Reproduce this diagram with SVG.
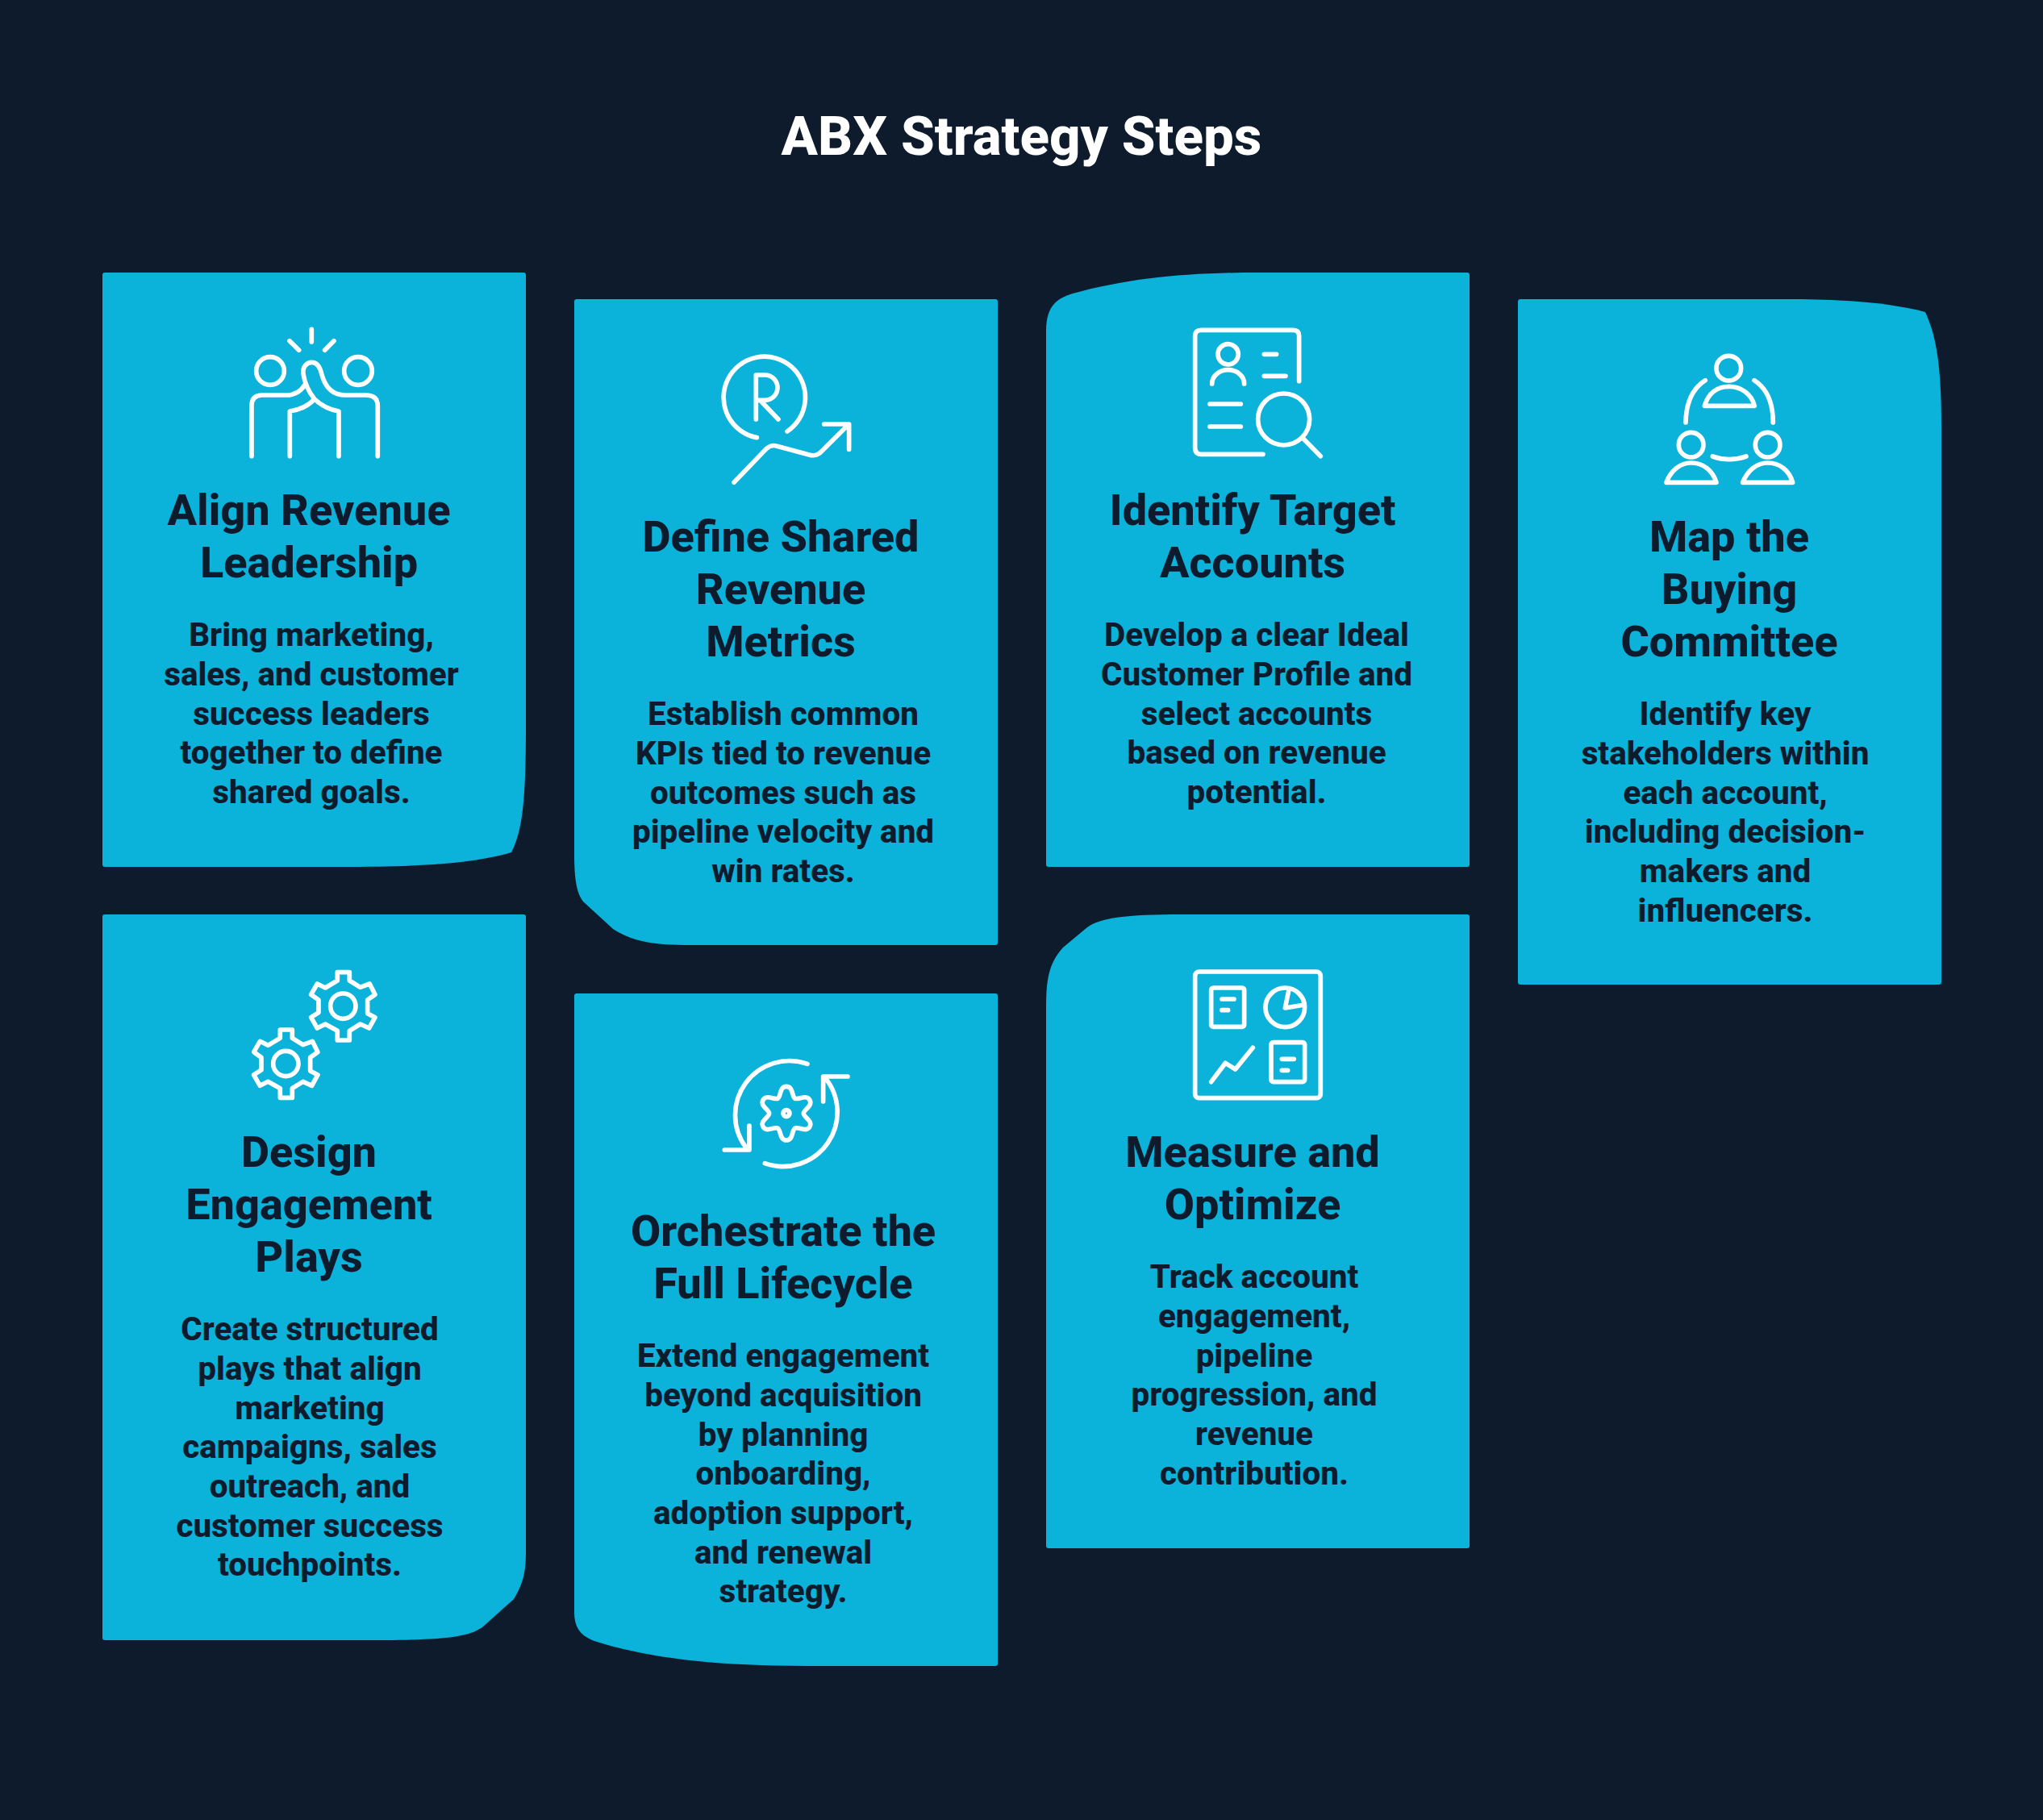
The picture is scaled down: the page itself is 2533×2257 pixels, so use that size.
<svg xmlns="http://www.w3.org/2000/svg" xmlns:xlink="http://www.w3.org/1999/xlink" width="2533" height="2257" viewBox="0 0 2533 2257">
<style>
.card{fill:#0bb2d9}
.ic{fill:none;stroke:#fff;stroke-width:17;stroke-linecap:round;stroke-linejoin:round}
text{font-family:Roboto,"Liberation Sans",sans-serif;text-anchor:middle;fill:#0e1b2d}
.t{font-size:67.300px;font-weight:800;fill:#fff}
.h{font-size:54px;font-weight:800}
.d{font-size:40.400px;font-weight:800}
</style>
<defs>
<path id="gear" d="M-21 -95V-126H24V-95L64 -70L99 -83L119 -43L91 -23V27L119 42L97 82L64 67L24 92V127H-21V92L-66 67L-96 82L-119 42L-91 24V-23L-119 -43L-96 -83L-66 -68Z"/>
</defs>
<rect width="2533" height="2257" fill="#0e1b2d"/>
<text class="t" x="1266.500" y="192">ABX Strategy Steps</text>
<g id="connectors"/>
<g id="card1">
<path class="card" d="M130 338H649Q652 338 652 341V900C652 990 648 1030 634 1057C590 1070 530 1075 420 1075H130Q127 1075 127 1072V341Q127 338 130 338Z"/>
<g class="ic" transform="translate(280 400) scale(.3333)"><circle cx="165" cy="180" r="52"/><circle cx="492" cy="180" r="52"/><path d="M319 25V72M237 68L272 103M402 68L368 103M96 497V310Q96 270 135 270H225Q270 270 295 230M238 497V330Q295 322 330 285Q295 240 288 190C285 165 300 148 320 148C340 148 350 165 356 190C370 245 400 270 445 270H520Q565 270 565 310V497M420 497V330Q370 322 330 285"/></g>
<text class="h" x="383" y="651">Align Revenue</text><text class="h" x="383" y="716">Leadership</text>
<text class="d" x="386" y="801">Bring marketing,</text><text class="d" x="386" y="850">sales, and customer</text><text class="d" x="386" y="899">success leaders</text><text class="d" x="386" y="947">together to define</text><text class="d" x="386" y="996">shared goals.</text>
</g>
<g id="card2">
<path class="card" d="M715 371H1234Q1237 371 1237 374V1169Q1237 1172 1234 1172H857C810 1172 785 1168 760 1152L723 1118C715 1108 712 1090 712 1060V374Q712 371 715 371Z"/>
<g class="ic" transform="translate(850 420) scale(.3333)"><path d="M265 368A152 152 0 1 1 378 345M262 300V135H295A47 47 0 0 1 295 229H262M280 232L345 300M180 535L300 410Q320 392 340 400L460 432Q485 440 505 420L605 320M515 318H608V412"/></g>
<text class="h" x="968" y="684">Define Shared</text><text class="h" x="968" y="749">Revenue</text><text class="h" x="968" y="814">Metrics</text>
<text class="d" x="971" y="899">Establish common</text><text class="d" x="971" y="948">KPIs tied to revenue</text><text class="d" x="971" y="997">outcomes such as</text><text class="d" x="971" y="1045">pipeline velocity and</text><text class="d" x="971" y="1094">win rates.</text>
</g>
<g id="card3">
<path class="card" d="M1297 410C1297 380 1310 370 1330 364C1400 345 1470 338 1560 338H1819Q1822 338 1822 341V1072Q1822 1075 1819 1075H1300Q1297 1075 1297 1072Z"/>
<g class="ic" transform="translate(1440 390) scale(.3333)"><path d="M512 248V80Q512 58 490 58H148Q125 58 125 80V495Q125 520 148 520H378M188 258A60 52 0 0 1 308 258M382 148H428M382 229H462M180 333H295M180 417H295M528 462L592 527"/><circle cx="248" cy="148" r="38"/><circle cx="455" cy="390" r="96"/></g>
<text class="h" x="1553" y="651">Identify Target</text><text class="h" x="1553" y="716">Accounts</text>
<text class="d" x="1558" y="801">Develop a clear Ideal</text><text class="d" x="1558" y="850">Customer Profile and</text><text class="d" x="1558" y="899">select accounts</text><text class="d" x="1558" y="947">based on revenue</text><text class="d" x="1558" y="996">potential.</text>
</g>
<g id="card4">
<path class="card" d="M1885 371H2213C2290 371 2345 376 2387 387C2400 415 2407 450 2407 530V1218Q2407 1221 2404 1221H1885Q1882 1221 1882 1218V374Q1882 371 1885 371Z"/>
<g class="ic" transform="translate(2030 420) scale(.3333)"><circle cx="340" cy="110" r="46"/><circle cx="200" cy="395" r="46"/><circle cx="485" cy="395" r="46"/><path d="M250 250C265 200 300 178 342 178C385 178 425 205 436 250ZM253 155Q182 200 180 312M435 155Q505 200 505 312M280 438Q342 460 405 438M108 535C125 490 160 462 200 462C245 462 280 490 294 535ZM392 535C410 490 445 462 485 462C530 462 565 490 578 535Z"/></g>
<text class="h" x="2144" y="684">Map the</text><text class="h" x="2144" y="749">Buying</text><text class="h" x="2144" y="814">Committee</text>
<text class="d" x="2139" y="899">Identify key</text><text class="d" x="2139" y="948">stakeholders within</text><text class="d" x="2139" y="997">each account,</text><text class="d" x="2139" y="1045">including decision-</text><text class="d" x="2139" y="1094">makers and</text><text class="d" x="2139" y="1143">influencers.</text>
</g>
<g id="card5">
<path class="card" d="M130 1134H649Q652 1134 652 1137V1925C652 1950 648 1965 637 1983L598 2018C580 2030 555 2033 480 2034H130Q127 2034 127 2031V1137Q127 1134 130 1134Z"/>
<g class="ic" transform="translate(290 1190) scale(.3333)"><use href="#gear" x="406" y="173"/><use href="#gear" x="193" y="387"/><circle cx="406" cy="173" r="47"/><circle cx="193" cy="387" r="47"/></g>
<text class="h" x="383" y="1447">Design</text><text class="h" x="383" y="1512">Engagement</text><text class="h" x="383" y="1577">Plays</text>
<text class="d" x="384" y="1662">Create structured</text><text class="d" x="384" y="1711">plays that align</text><text class="d" x="384" y="1760">marketing</text><text class="d" x="384" y="1808">campaigns, sales</text><text class="d" x="384" y="1857">outreach, and</text><text class="d" x="384" y="1906">customer success</text><text class="d" x="384" y="1954">touchpoints.</text>
</g>
<g id="card6">
<path class="card" d="M715 1232H1234Q1237 1232 1237 1235V2063Q1237 2066 1234 2066H1000C880 2066 800 2055 740 2036C720 2030 712 2018 712 2000V1235Q712 1232 715 1232Z"/>
<g class="ic" transform="translate(870 1290) scale(.3333)"><path d="M393 88A202 202 0 0 0 165 400M177 318V408H85M235 458A202 202 0 0 0 455 135M452 228V135H543M315 172C341 172 334.900 209.600 347 216.600C359.100 223.600 388.600 199.500 401.600 222C414.600 244.500 379 258 379 272C379 286 414.600 299.500 401.600 322C388.600 344.500 359.100 320.400 347 327.400C334.900 334.400 341 372 315 372C289 372 295.100 334.400 283 327.400C270.900 320.400 241.400 344.500 228.400 322C215.400 299.500 251 286 251 272C251 258 215.400 244.500 228.400 222C241.400 199.500 270.900 223.600 283 216.600C295.100 209.600 289 172 315 172Z"/><circle cx="315" cy="272" r="12"/></g>
<text class="h" x="971" y="1545">Orchestrate the</text><text class="h" x="971" y="1610">Full Lifecycle</text>
<text class="d" x="971" y="1695">Extend engagement</text><text class="d" x="971" y="1744">beyond acquisition</text><text class="d" x="971" y="1793">by planning</text><text class="d" x="971" y="1841">onboarding,</text><text class="d" x="971" y="1890">adoption support,</text><text class="d" x="971" y="1939">and renewal</text><text class="d" x="971" y="1987">strategy.</text>
</g>
<g id="card7">
<path class="card" d="M1297 1250C1297 1215 1300 1195 1318 1175L1348 1150C1365 1138 1395 1134 1465 1134H1819Q1822 1134 1822 1137V1917Q1822 1920 1819 1920H1300Q1297 1920 1297 1917Z"/>
<g class="ic" transform="translate(1450 1190) scale(.3333)"><rect x="95" y="45" width="467" height="470" rx="15"/><rect x="155" y="105" width="123" height="145" rx="8"/><rect x="378" y="308" width="125" height="147" rx="8"/><circle cx="430" cy="178" r="73"/><path d="M195 147H240M195 188H218M445 108L430 180L502 168M155 455L208 385L245 408L310 328M418 370H463M418 412H440"/></g>
<text class="h" x="1553" y="1447">Measure and</text><text class="h" x="1553" y="1512">Optimize</text>
<text class="d" x="1555" y="1597">Track account</text><text class="d" x="1555" y="1646">engagement,</text><text class="d" x="1555" y="1695">pipeline</text><text class="d" x="1555" y="1743">progression, and</text><text class="d" x="1555" y="1792">revenue</text><text class="d" x="1555" y="1841">contribution.</text>
</g>
</svg>
